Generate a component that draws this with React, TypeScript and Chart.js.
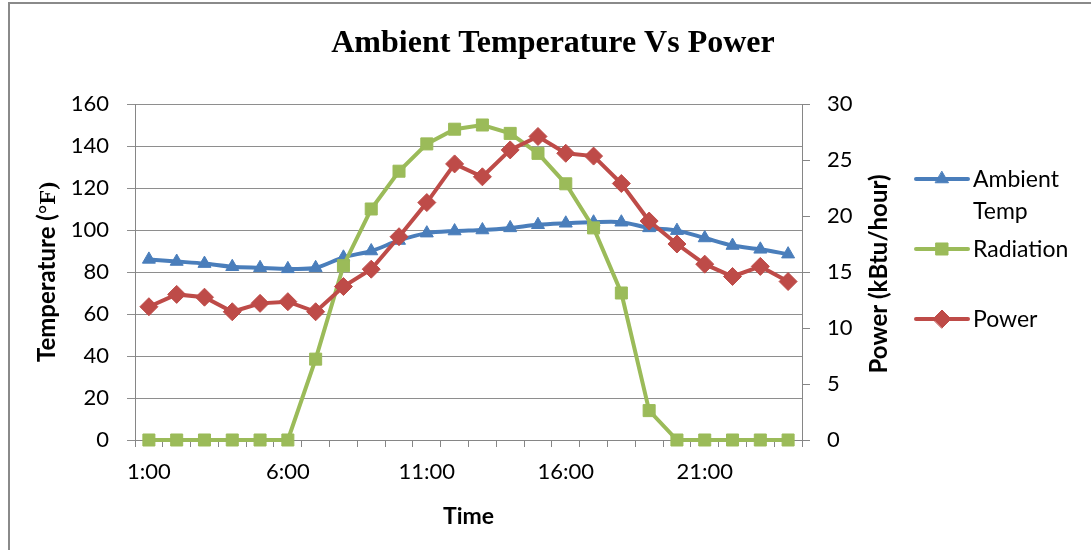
import React, { useEffect, useRef } from 'react';
import { Chart, registerables } from 'chart.js';

Chart.register(...registerables);

const hours = [
  '1:00', '2:00', '3:00', '4:00', '5:00', '6:00', '7:00', '8:00', '9:00', '10:00', '11:00', '12:00',
  '13:00', '14:00', '15:00', '16:00', '17:00', '18:00', '19:00', '20:00', '21:00', '22:00', '23:00', '24:00',
];

// Ambient temperature (°F), left axis
const ambientTemp = [86, 85, 84, 82.5, 82, 81.5, 82, 87, 90, 95, 98.5, 99.5, 100, 101, 102.5, 103.2, 103.7, 103.7, 101, 99.7, 96.2, 92.6, 90.8, 88.5];
// Radiation, left axis
const radiation = [0, 0, 0, 0, 0, 0, 38.5, 83, 110, 128, 141, 148, 150, 146, 136.5, 122, 101, 70, 14, 0, 0, 0, 0, 0];
// Power (kBtu/hour), right axis
const power = [11.9, 13.0, 12.75, 11.45, 12.2, 12.35, 11.45, 13.7, 15.25, 18.15, 21.2, 24.65, 23.5, 25.9, 27.1, 25.6, 25.35, 22.9, 19.55, 17.5, 15.7, 14.6, 15.5, 14.15];

const tempTicks = { min: 0, max: 160, step: 20 };
const powerTicks = { min: 0, max: 30, step: 5 };

const seriesNames = ['Ambient Temp', 'Radiation', 'Power'];
const chartTitle = 'Ambient Temperature Vs Power';

const BLUE = '#4A7EBB';
const GREEN = '#9BBB59';
const RED = '#BE4B48';
const GRID = '#8E8E8E';
const AXIS = '#868686';
const SANS = 'Lato, "Open Sans", sans-serif';
const SERIF = '"Liberation Serif", "Times New Roman", serif';

function drawMarker(ctx: CanvasRenderingContext2D, style: string, x: number, y: number, r: number, color: string) {
  ctx.save();
  ctx.fillStyle = color;
  ctx.strokeStyle = color;
  ctx.lineWidth = 1;
  ctx.beginPath();
  if (style === 'triangle') {
    for (let i = 0; i < 3; i++) {
      const a = (i * 2 * Math.PI) / 3;
      const px = x + Math.sin(a) * r;
      const py = y - Math.cos(a) * r;
      if (i === 0) ctx.moveTo(px, py);
      else ctx.lineTo(px, py);
    }
  } else if (style === 'rect') {
    const s = Math.SQRT1_2 * r;
    ctx.rect(x - s, y - s, 2 * s, 2 * s);
  } else {
    ctx.moveTo(x - r, y);
    ctx.lineTo(x, y - r);
    ctx.lineTo(x + r, y);
    ctx.lineTo(x, y + r);
  }
  ctx.closePath();
  ctx.fill();
  ctx.stroke();
  ctx.restore();
}

const decorPlugin = {
  id: 'decor',
  afterDraw(chart: any) {
    const ctx: CanvasRenderingContext2D = chart.ctx;
    const area = chart.chartArea;
    ctx.save();
    // outer frame
    ctx.strokeStyle = '#8A8A8A';
    ctx.lineWidth = 2;
    ctx.beginPath();
    ctx.moveTo(9, 550);
    ctx.lineTo(9, 3);
    ctx.lineTo(1091, 3);
    ctx.stroke();

    // title
    ctx.fillStyle = '#000';
    ctx.font = `bold 32px ${SERIF}`;
    ctx.textAlign = 'center';
    ctx.textBaseline = 'alphabetic';
    ctx.fillText(chartTitle, 553, 52);

    // x title
    ctx.font = `bold 23px ${SANS}`;
    ctx.fillText('Time', (area.left + area.right) / 2, 524);

    const cy = (area.top + area.bottom) / 2;
    // left axis title with mixed fonts
    ctx.save();
    ctx.translate(55, cy);
    ctx.rotate(-Math.PI / 2);
    const p1 = 'Temperature (';
    const p2 = '°F)';
    ctx.font = `bold 24px ${SANS}`;
    const w1 = ctx.measureText(p1).width;
    ctx.font = `bold 24px ${SERIF}`;
    const w2 = ctx.measureText(p2).width;
    const start = -(w1 + w2) / 2;
    ctx.textAlign = 'left';
    ctx.font = `bold 24px ${SANS}`;
    ctx.fillText(p1, start, 0);
    ctx.font = `bold 24px ${SERIF}`;
    ctx.fillText(p2, start + w1, 0);
    ctx.restore();

    // right axis title
    ctx.save();
    ctx.translate(887, cy + 2);
    ctx.rotate(-Math.PI / 2);
    ctx.textAlign = 'center';
    ctx.font = `bold 24px ${SANS}`;
    ctx.fillText('Power (kBtu/hour)', 0, 0);
    ctx.restore();

    // legend
    const items = [
      { lines: ['Ambient', 'Temp'], color: BLUE, style: 'triangle', y: 179, r: 7.5 },
      { lines: [seriesNames[1]], color: GREEN, style: 'rect', y: 249, r: 8.5 },
      { lines: [seriesNames[2]], color: RED, style: 'rectRot', y: 319, r: 9 },
    ];
    items.forEach((it) => {
      ctx.strokeStyle = it.color;
      ctx.lineWidth = 4;
      ctx.lineCap = 'round';
      ctx.beginPath();
      ctx.moveTo(916, it.y);
      ctx.lineTo(968, it.y);
      ctx.stroke();
      drawMarker(ctx, it.style, 942, it.y, it.r, it.color);
      ctx.fillStyle = '#000';
      ctx.font = `23px ${SANS}`;
      ctx.textAlign = 'left';
      ctx.textBaseline = 'alphabetic';
      it.lines.forEach((t, i) => ctx.fillText(t, 973, it.y + 8 + i * 32));
    });
    ctx.restore();
  },
};

export default function App() {
  const ref = useRef<HTMLCanvasElement>(null);
  useEffect(() => {
    document.body.style.margin = '0';
    const tickFont = { family: SANS, size: 22 };
    const chart = new Chart(ref.current!, {
      type: 'line',
      data: {
        labels: hours,
        datasets: [
          {
            label: seriesNames[0],
            data: ambientTemp,
            yAxisID: 'y',
            borderColor: BLUE,
            backgroundColor: BLUE,
            borderWidth: 4,
            pointStyle: 'triangle',
            pointRadius: 7.5,
            pointBorderWidth: 1,
            tension: 0.3,
            order: 2,
            clip: false,
          },
          {
            label: seriesNames[1],
            data: radiation,
            yAxisID: 'y',
            borderColor: GREEN,
            backgroundColor: GREEN,
            borderWidth: 4,
            pointStyle: 'rect',
            pointRadius: 8.5,
            pointBorderWidth: 1,
            tension: 0,
            order: 1,
            clip: false,
          },
          {
            label: seriesNames[2],
            data: power,
            yAxisID: 'y1',
            borderColor: RED,
            backgroundColor: RED,
            borderWidth: 4,
            pointStyle: 'rectRot',
            pointRadius: 9,
            pointBorderWidth: 1,
            tension: 0,
            order: 0,
            clip: false,
          },
        ],
      } as any,
      options: {
        responsive: false,
        animation: false,
        devicePixelRatio: 1,
        layout: { padding: { top: 104, left: 0, right: 229, bottom: 0 } },
        plugins: {
          legend: { display: false },
          title: { display: false },
          tooltip: { enabled: false },
        },
        scales: {
          x: {
            type: 'category',
            offset: true,
            grid: { display: true, drawOnChartArea: false, drawTicks: true, tickLength: 7, color: AXIS, offset: true },
            border: { display: true, color: AXIS, width: 1 },
            ticks: {
              autoSkip: false,
              maxRotation: 0,
              minRotation: 0,
              padding: 12,
              color: '#000',
              font: tickFont,
              callback: (_v: any, i: number) => (i % 5 === 0 ? hours[i] : ''),
            },
            afterFit: (s: any) => {
              s.height = 110;
              s.paddingLeft = 0;
              s.paddingRight = 0;
            },
          },
          y: {
            position: 'left',
            min: tempTicks.min,
            max: tempTicks.max,
            ticks: { stepSize: tempTicks.step, padding: 18, color: '#000', font: tickFont },
            grid: { color: GRID, tickLength: 8, drawTicks: true },
            border: { color: AXIS, width: 1 },
            afterFit: (s: any) => {
              s.width = 135;
              s.paddingTop = 0;
              s.paddingBottom = 0;
            },
          },
          y1: {
            position: 'right',
            min: powerTicks.min,
            max: powerTicks.max,
            ticks: { stepSize: powerTicks.step, padding: 17, color: '#000', font: tickFont },
            grid: { drawOnChartArea: false, color: AXIS, tickLength: 8, drawTicks: true },
            border: { color: AXIS, width: 1 },
            afterFit: (s: any) => {
              s.width = 60;
              s.paddingTop = 0;
              s.paddingBottom = 0;
            },
          },
        },
      } as any,
      plugins: [decorPlugin],
    });
    let alive = true;
    if ((document as any).fonts) {
      Promise.all([
        (document as any).fonts.load(`22px Lato`),
        (document as any).fonts.load(`bold 23px Lato`),
        (document as any).fonts.load(`bold 32px "Liberation Serif"`),
      ]).then(() => {
        if (alive) chart.update();
      }).catch(() => {});
    }
    return () => {
      alive = false;
      chart.destroy();
    };
  }, []);
  return (
    <div style={{ width: 1091, height: 550, position: 'relative', overflow: 'hidden', background: '#fff' }}>
      <canvas ref={ref} width={1091} height={550} style={{ display: 'block' }} />
    </div>
  );
}
